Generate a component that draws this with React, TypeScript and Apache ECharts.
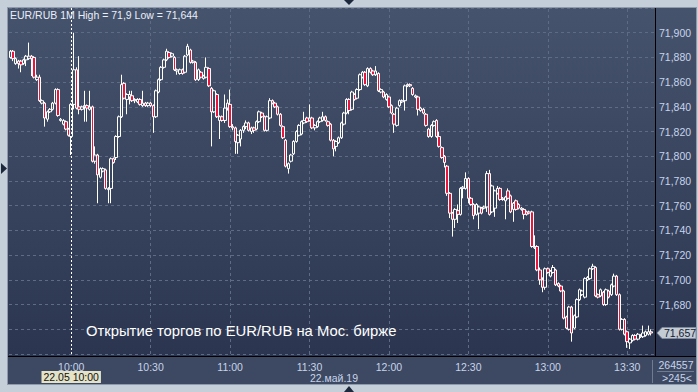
import React, { useEffect, useRef } from "react";
import * as echarts from "echarts";

// ---- data (EUR/RUB, 1-minute candles, 22.05.2019, from 9:37) ----
const startTime = "9:37";
const slotCount = 244; // visible minute slots on the time axis
const open = [
  71.880, 71.885, 71.875, 71.877, 71.877, 71.875, 71.878, 71.879, 71.881, 71.880,
  71.862, 71.864, 71.843, 71.843, 71.830, 71.836, 71.838, 71.843, 71.854, 71.829,
  71.826, 71.828, 71.822, 71.816, 71.842, 71.870, 71.840, 71.838, 71.840, 71.841,
  71.838, 71.840, 71.796, 71.801, 71.783, 71.788, 71.789, 71.773, 71.774, 71.798,
  71.799, 71.816, 71.832, 71.859, 71.846, 71.848, 71.849, 71.845, 71.844, 71.846,
  71.841, 71.843, 71.841, 71.843, 71.841, 71.832, 71.852, 71.862, 71.872, 71.878,
  71.884, 71.881, 71.880, 71.869, 71.867, 71.870, 71.868, 71.882, 71.886, 71.876,
  71.876, 71.862, 71.868, 71.863, 71.864, 71.871, 71.855, 71.836, 71.850, 71.829,
  71.832, 71.829, 71.839, 71.842, 71.824, 71.823, 71.811, 71.814, 71.821, 71.824,
  71.827, 71.820, 71.823, 71.822, 71.828, 71.835, 71.832, 71.821, 71.831, 71.845,
  71.843, 71.840, 71.834, 71.824, 71.813, 71.790, 71.796, 71.802, 71.812, 71.817,
  71.818, 71.827, 71.831, 71.829, 71.831, 71.823, 71.824, 71.828, 71.829, 71.832,
  71.828, 71.826, 71.813, 71.808, 71.811, 71.815, 71.826, 71.835, 71.846, 71.838,
  71.850, 71.847, 71.854, 71.864, 71.868, 71.857, 71.871, 71.869, 71.866, 71.867,
  71.852, 71.852, 71.846, 71.848, 71.841, 71.834, 71.825, 71.841, 71.844, 71.845,
  71.857, 71.858, 71.855, 71.848, 71.848, 71.837, 71.838, 71.834, 71.822, 71.816,
  71.825, 71.829, 71.816, 71.807, 71.800, 71.792, 71.770, 71.754, 71.749, 71.756,
  71.753, 71.774, 71.774, 71.782, 71.766, 71.761, 71.753, 71.754, 71.758, 71.758,
  71.759, 71.786, 71.755, 71.758, 71.770, 71.774, 71.765, 71.764, 71.772, 71.768,
  71.757, 71.764, 71.761, 71.757, 71.757, 71.755, 71.755, 71.755, 71.726, 71.727,
  71.708, 71.700, 71.694, 71.709, 71.703, 71.706, 71.708, 71.697, 71.695, 71.691,
  71.670, 71.660, 71.678, 71.661, 71.670, 71.684, 71.688, 71.686, 71.700, 71.701,
  71.709, 71.710, 71.688, 71.687, 71.690, 71.680, 71.691, 71.688, 71.695, 71.703,
  71.688, 71.660, 71.668, 71.658, 71.649, 71.651, 71.655, 71.652, 71.654, 71.654,
  71.655, 71.656, 71.658,
];
const close = [
  71.885, 71.879, 71.879, 71.875, 71.874, 71.878, 71.881, 71.881, 71.879, 71.864,
  71.864, 71.845, 71.845, 71.831, 71.836, 71.838, 71.843, 71.854, 71.833, 71.830,
  71.829, 71.822, 71.817, 71.842, 71.870, 71.839, 71.838, 71.840, 71.841, 71.839,
  71.840, 71.796, 71.801, 71.785, 71.790, 71.790, 71.774, 71.774, 71.798, 71.795,
  71.816, 71.832, 71.858, 71.847, 71.850, 71.850, 71.845, 71.846, 71.846, 71.842,
  71.843, 71.841, 71.843, 71.841, 71.832, 71.853, 71.862, 71.872, 71.878, 71.885,
  71.880, 71.883, 71.870, 71.870, 71.870, 71.867, 71.881, 71.889, 71.876, 71.877,
  71.862, 71.870, 71.864, 71.865, 71.872, 71.857, 71.836, 71.853, 71.832, 71.832,
  71.829, 71.839, 71.843, 71.824, 71.823, 71.812, 71.817, 71.821, 71.824, 71.827,
  71.821, 71.823, 71.821, 71.828, 71.836, 71.832, 71.821, 71.832, 71.845, 71.843,
  71.840, 71.834, 71.825, 71.815, 71.792, 71.794, 71.801, 71.812, 71.820, 71.825,
  71.828, 71.829, 71.828, 71.831, 71.823, 71.825, 71.828, 71.831, 71.832, 71.829,
  71.825, 71.813, 71.806, 71.812, 71.815, 71.827, 71.835, 71.846, 71.837, 71.852,
  71.846, 71.854, 71.866, 71.868, 71.858, 71.871, 71.868, 71.866, 71.869, 71.853,
  71.854, 71.848, 71.850, 71.840, 71.835, 71.826, 71.839, 71.845, 71.845, 71.857,
  71.858, 71.857, 71.850, 71.849, 71.838, 71.839, 71.835, 71.825, 71.816, 71.825,
  71.828, 71.816, 71.808, 71.799, 71.795, 71.770, 71.754, 71.749, 71.757, 71.753,
  71.774, 71.775, 71.782, 71.766, 71.761, 71.752, 71.761, 71.759, 71.754, 71.759,
  71.786, 71.753, 71.776, 71.772, 71.774, 71.765, 71.766, 71.767, 71.766, 71.755,
  71.762, 71.757, 71.758, 71.758, 71.753, 71.753, 71.754, 71.727, 71.727, 71.708,
  71.700, 71.694, 71.709, 71.706, 71.707, 71.710, 71.696, 71.695, 71.691, 71.669,
  71.661, 71.678, 71.657, 71.671, 71.684, 71.692, 71.691, 71.701, 71.702, 71.709,
  71.711, 71.687, 71.686, 71.692, 71.680, 71.692, 71.686, 71.696, 71.703, 71.688,
  71.660, 71.668, 71.656, 71.650, 71.652, 71.655, 71.652, 71.656, 71.655, 71.657,
  71.658, 71.658, 71.657,
];
const low = [
  71.879, 71.877, 71.874, 71.871, 71.868, 71.874, 71.873, 71.878, 71.865, 71.863,
  71.861, 71.844, 71.842, 71.824, 71.828, 71.835, 71.837, 71.842, 71.832, 71.828,
  71.825, 71.821, 71.816, 71.801, 71.838, 71.838, 71.834, 71.837, 71.828, 71.828,
  71.837, 71.795, 71.794, 71.762, 71.782, 71.787, 71.773, 71.762, 71.762, 71.794,
  71.797, 71.815, 71.831, 71.846, 71.834, 71.842, 71.844, 71.843, 71.843, 71.841,
  71.840, 71.840, 71.840, 71.840, 71.819, 71.831, 71.851, 71.861, 71.871, 71.877,
  71.879, 71.880, 71.869, 71.866, 71.866, 71.866, 71.867, 71.881, 71.875, 71.875,
  71.861, 71.861, 71.863, 71.862, 71.863, 71.856, 71.808, 71.835, 71.831, 71.814,
  71.828, 71.827, 71.837, 71.823, 71.821, 71.802, 71.802, 71.808, 71.819, 71.822,
  71.820, 71.818, 71.819, 71.821, 71.827, 71.831, 71.820, 71.820, 71.830, 71.842,
  71.839, 71.833, 71.824, 71.814, 71.791, 71.786, 71.795, 71.801, 71.811, 71.816,
  71.817, 71.826, 71.827, 71.828, 71.822, 71.821, 71.823, 71.827, 71.828, 71.828,
  71.824, 71.812, 71.800, 71.804, 71.810, 71.814, 71.825, 71.834, 71.834, 71.837,
  71.845, 71.846, 71.853, 71.863, 71.857, 71.856, 71.867, 71.865, 71.865, 71.852,
  71.851, 71.847, 71.845, 71.839, 71.834, 71.819, 71.824, 71.840, 71.843, 71.837,
  71.856, 71.856, 71.849, 71.847, 71.833, 71.836, 71.834, 71.824, 71.815, 71.815,
  71.824, 71.815, 71.807, 71.798, 71.791, 71.768, 71.750, 71.735, 71.742, 71.746,
  71.752, 71.766, 71.773, 71.762, 71.760, 71.749, 71.752, 71.741, 71.753, 71.757,
  71.755, 71.752, 71.754, 71.751, 71.769, 71.764, 71.764, 71.749, 71.765, 71.754,
  71.747, 71.756, 71.757, 71.756, 71.749, 71.752, 71.753, 71.726, 71.725, 71.707,
  71.696, 71.690, 71.692, 71.705, 71.702, 71.705, 71.695, 71.694, 71.690, 71.668,
  71.660, 71.659, 71.650, 71.660, 71.669, 71.683, 71.687, 71.685, 71.699, 71.700,
  71.708, 71.686, 71.685, 71.686, 71.679, 71.679, 71.685, 71.687, 71.694, 71.687,
  71.659, 71.659, 71.655, 71.645, 71.644, 71.650, 71.651, 71.651, 71.653, 71.653,
  71.654, 71.655, 71.655,
];
const high = [
  71.886, 71.886, 71.880, 71.878, 71.878, 71.879, 71.882, 71.892, 71.882, 71.881,
  71.866, 71.866, 71.846, 71.844, 71.837, 71.839, 71.844, 71.855, 71.855, 71.831,
  71.830, 71.829, 71.823, 71.843, 71.900, 71.872, 71.881, 71.841, 71.853, 71.842,
  71.853, 71.841, 71.808, 71.802, 71.791, 71.791, 71.790, 71.775, 71.799, 71.799,
  71.817, 71.833, 71.866, 71.860, 71.851, 71.853, 71.853, 71.847, 71.847, 71.847,
  71.853, 71.844, 71.844, 71.844, 71.842, 71.854, 71.863, 71.873, 71.879, 71.887,
  71.885, 71.884, 71.881, 71.871, 71.871, 71.871, 71.882, 71.891, 71.887, 71.878,
  71.877, 71.871, 71.869, 71.866, 71.880, 71.872, 71.856, 71.854, 71.851, 71.833,
  71.833, 71.850, 71.846, 71.854, 71.826, 71.824, 71.818, 71.822, 71.825, 71.829,
  71.828, 71.824, 71.824, 71.829, 71.837, 71.836, 71.833, 71.833, 71.847, 71.846,
  71.844, 71.841, 71.835, 71.825, 71.814, 71.795, 71.802, 71.813, 71.821, 71.826,
  71.829, 71.836, 71.832, 71.842, 71.832, 71.826, 71.829, 71.832, 71.836, 71.833,
  71.829, 71.827, 71.814, 71.813, 71.816, 71.828, 71.836, 71.847, 71.847, 71.853,
  71.851, 71.855, 71.867, 71.869, 71.869, 71.872, 71.872, 71.870, 71.873, 71.868,
  71.855, 71.853, 71.851, 71.849, 71.842, 71.835, 71.840, 71.846, 71.846, 71.858,
  71.859, 71.859, 71.856, 71.850, 71.849, 71.840, 71.839, 71.835, 71.823, 71.826,
  71.829, 71.830, 71.820, 71.808, 71.801, 71.793, 71.771, 71.755, 71.758, 71.761,
  71.775, 71.776, 71.787, 71.783, 71.767, 71.762, 71.762, 71.760, 71.759, 71.760,
  71.788, 71.789, 71.777, 71.773, 71.776, 71.775, 71.767, 71.768, 71.774, 71.769,
  71.763, 71.765, 71.762, 71.759, 71.758, 71.756, 71.756, 71.756, 71.736, 71.728,
  71.710, 71.702, 71.710, 71.710, 71.708, 71.712, 71.709, 71.698, 71.696, 71.692,
  71.671, 71.679, 71.679, 71.672, 71.685, 71.693, 71.692, 71.702, 71.703, 71.710,
  71.713, 71.711, 71.689, 71.693, 71.691, 71.693, 71.692, 71.697, 71.705, 71.704,
  71.689, 71.669, 71.669, 71.659, 71.653, 71.656, 71.656, 71.657, 71.656, 71.663,
  71.659, 71.663, 71.660,
];
const timeLabels = ["10:00", "10:30", "11:00", "11:30", "12:00", "12:30", "13:00", "13:30"];
const crosshairTime = "10:00";
const crosshairLabel = "22.05 10:00";
const dateLabel = "22.май.19";
const yMin = 71.64;
const yMax = 71.92;
const yStep = 0.02;
const hiddenYLabels = [71.64, 71.66, 71.92];
const symbolName = "EUR/RUB 1M";
const annotation = "Открытие торгов по EUR/RUB на Мос. бирже";
const volumeText = "264557";
const barsText = ">245<";

const FONT = '"Liberation Sans", Arial, sans-serif';
const LABEL = "#c7d4ea";

function buildTimes(): string[] {
  const [h, m] = startTime.split(":").map(Number);
  const start = h * 60 + m;
  const out: string[] = [];
  for (let k = 0; k < slotCount; k++) {
    const t = start + k;
    out.push(`${Math.floor(t / 60)}:${String(t % 60).padStart(2, "0")}`);
  }
  return out;
}

const fmtComma = (v: number, digits?: number) =>
  (digits === undefined ? String(+v.toFixed(3)) : v.toFixed(digits)).replace(".", ",");

export default function App() {
  const ref = useRef<HTMLDivElement>(null);

  useEffect(() => {
    const el = ref.current;
    if (!el) return;
    const chart = echarts.init(el, null, { renderer: "svg", width: 698, height: 392 });
    const times = buildTimes();
    const candles = open.map((o, i) => [o, close[i], low[i], high[i]]);
    const hi = Math.max(...high);
    const lo = Math.min(...low);

    const option: any = {
      animation: false,
      backgroundColor: "transparent",
      grid: { left: 9, right: 43, top: 8, bottom: 38 },
      xAxis: {
        type: "category",
        data: times,
        boundaryGap: true,
        axisLine: { show: false },
        axisTick: { show: false },
        splitLine: { show: false },
        axisLabel: {
          interval: (_i: number, v: string) => timeLabels.includes(v),
          color: LABEL,
          fontSize: 10.5,
          fontFamily: FONT,
          margin: 7,
        },
      },
      yAxis: {
        type: "value",
        position: "right",
        min: yMin,
        max: yMax,
        interval: yStep,
        axisLine: { show: false },
        axisTick: { show: false },
        axisLabel: {
          color: LABEL,
          fontSize: 10.5,
          fontFamily: FONT,
          margin: 4,
          align: "left",
          formatter: (v: number) =>
            hiddenYLabels.some((h) => Math.abs(h - v) < 1e-6) ? "" : fmtComma(v, 3),
        },
        splitLine: { show: true, lineStyle: { color: "#5e6b85", type: [3, 3], width: 1 } },
      },
      series: [
        {
          type: "candlestick",
          data: candles,
          barWidth: 3,
          itemStyle: {
            color: "rgba(0,0,0,0)",
            color0: "#e8163c",
            borderColor: "#ffffff",
            borderColor0: "#ffffff",
            borderWidth: 1,
          },
          markLine: {
            silent: true,
            z: 1,
            symbol: ["none", "none"],
            label: { show: false },
            lineStyle: { color: "#5e6b85", type: [3, 3], width: 1 },
            data: [
              ...timeLabels.filter((t) => t !== crosshairTime).map((t) => ({ xAxis: t })),
              { xAxis: crosshairTime, lineStyle: { color: "#ffffff", type: [2, 2], width: 1 } },
            ],
          },
        },
      ],
      graphic: [
        { id: "xline", type: "line", shape: { x1: 8, y1: 356.5, x2: 696, y2: 356.5 }, style: { stroke: "#000", lineWidth: 1 }, z: 10 },
        { id: "yline", type: "line", shape: { x1: 655.5, y1: 8, x2: 655.5, y2: 357 }, style: { stroke: "#000", lineWidth: 1 }, z: 10 },
        { id: "sep1", type: "line", shape: { x1: 652.5, y1: 360, x2: 652.5, y2: 383 }, style: { stroke: "#6f7b91", lineWidth: 1 }, z: 10 },
        { id: "sep2", type: "line", shape: { x1: 657, y1: 371.5, x2: 694, y2: 371.5 }, style: { stroke: "#6f7b91", lineWidth: 1 }, z: 10 },
        {
          id: "title", type: "text", x: 10, y: 9, z: 10,
          style: { text: `${symbolName} High = ${fmtComma(hi)} Low = ${fmtComma(lo)}`, fill: "#e9eef8", fontSize: 10.5, fontFamily: FONT, verticalAlign: "top" },
        },
        {
          id: "annot", type: "text", x: 86, y: 331, z: 10,
          style: { text: annotation, fill: "#ffffff", fontSize: 14.8, fontFamily: FONT, verticalAlign: "middle" },
        },
        {
          id: "date", type: "text", x: 334, y: 377.5, z: 10,
          style: { text: dateLabel, fill: LABEL, fontSize: 10.5, fontFamily: FONT, align: "center", verticalAlign: "middle" },
        },
        {
          id: "vol", type: "text", x: 676, y: 364.5, z: 10,
          style: { text: volumeText, fill: LABEL, fontSize: 10.5, fontFamily: FONT, align: "center", verticalAlign: "middle" },
        },
        {
          id: "bars", type: "text", x: 677, y: 377.5, z: 10,
          style: { text: barsText, fill: LABEL, fontSize: 10.5, fontFamily: FONT, align: "center", verticalAlign: "middle" },
        },
        { id: "arrL", type: "polygon", shape: { points: [[1, 163], [7, 168.5], [1, 174]] }, style: { fill: "#1d283c" }, z: 10 },
        { id: "arrT", type: "polygon", shape: { points: [[344, 0], [354, 0], [349, 5]] }, style: { fill: "#1d283c" }, z: 10 },
        { id: "arrB", type: "polygon", shape: { points: [[344, 392], [354, 392], [349, 386]] }, style: { fill: "#1d283c" }, z: 10 },
      ],
    };
    chart.setOption(option);

    const last = close[close.length - 1];
    const ty = chart.convertToPixel({ yAxisIndex: 0 }, last) as number;
    const cx = chart.convertToPixel({ xAxisIndex: 0 }, crosshairTime) as number;
    chart.setOption({
      graphic: [
        {
          id: "tag", type: "polygon", z: 11,
          shape: { points: [[657, ty], [662, ty - 5.5], [696, ty - 5.5], [696, ty + 5.5], [662, ty + 5.5]] },
          style: { fill: "#c3cbd5", stroke: "#7f8a9b", lineWidth: 1 },
        },
        {
          id: "tagText", type: "text", x: 664, y: ty, z: 12,
          style: { text: fmtComma(last, 3), fill: "#162030", fontSize: 10.5, fontFamily: FONT, verticalAlign: "middle" },
        },
        {
          id: "cross", type: "text", x: cx, y: 377, z: 12,
          style: {
            text: crosshairLabel, fill: "#111111", fontSize: 10.5, fontFamily: FONT,
            align: "center", verticalAlign: "middle", backgroundColor: "#e4e2c7", padding: [1, 2, 0, 2],
          },
        },
      ],
    });

    return () => chart.dispose();
  }, []);

  return (
    <div style={{ position: "fixed", left: 0, top: 0, width: 698, height: 392, background: "#c5cfda", overflow: "hidden" }}>
      <div style={{ position: "absolute", left: 7, top: 7, width: 690, height: 378, background: "#8f9bab" }} />
      <div style={{ position: "absolute", left: 8, top: 8, width: 688, height: 349, background: "linear-gradient(#46536c, #2b3550)" }} />
      <div style={{ position: "absolute", left: 8, top: 357, width: 688, height: 27, background: "#3d4962" }} />
      <div ref={ref} style={{ position: "absolute", left: 0, top: 0, width: 698, height: 392 }} />
    </div>
  );
}
